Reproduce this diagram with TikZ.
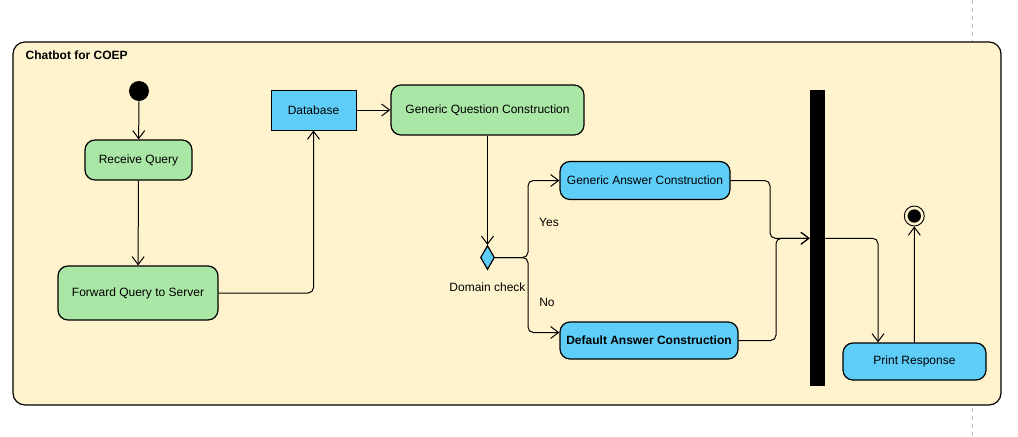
\documentclass[tikz,border=0pt]{standalone}
\usepackage{fontspec}
\setmainfont{Liberation Sans}
\usetikzlibrary{arrows.meta}
\usetikzlibrary{shapes.geometric}

\definecolor{poolfill}{RGB}{255,243,205}
\definecolor{actgreen}{RGB}{170,230,165}
\definecolor{actblue}{RGB}{94,206,248}

\begin{document}
\begin{tikzpicture}[x=0.75pt, y=-0.75pt, font=\fontsize{9}{11}\selectfont,
    action/.style={draw, line width=0.9pt, rounded corners=7.5pt, inner sep=0pt},
    flow/.style={line width=0.75pt, rounded corners=4pt,
        -{Straight Barb[length=6pt, width=9pt, line width=0.75pt]}}]
    \useasboundingbox (0,0) rectangle (1018,436);
    \draw [dashed, black!25, line width=0.75pt] (972,0) -- (972,436);
    % swimlane
    \draw [line width=0.9pt, fill=poolfill, rounded corners=9pt] (13,42) rectangle (1001,405);
    \node [anchor=west, font=\fontsize{9}{11}\selectfont\bfseries] (title) at (21,55) {Chatbot for COEP};
    % states
    \node [circle, fill=black, inner sep=0pt, minimum size=15pt] (init) at (139,91) {};
    \node [action, fill=actgreen, minimum width=80.25pt, minimum height=30pt] (recv) at (138.5,160) {Receive Query};
    \node [action, fill=actgreen, minimum width=120pt, minimum height=40.5pt] (fwd) at (138,293) {Forward Query to Server};
    \node [draw, line width=0.7pt, fill=actblue, minimum width=63.75pt, minimum height=30pt] (db) at (313.5,110) {Database};
    \node [action, fill=actgreen, minimum width=144.75pt, minimum height=37.5pt] (gqc) at (487.5,110) {Generic Question Construction};
    \node [diamond, draw, line width=0.9pt, fill=actblue, inner sep=0pt, minimum width=10.5pt, minimum height=18pt] (dec) at (487.5,257.5) {};
    \node (domain) at (487.5,287) {Domain check};
    \node [action, fill=actblue, minimum width=127.5pt, minimum height=28.5pt] (gac) at (645,180.5) {Generic Answer Construction};
    \node [action, fill=actblue, minimum width=133.5pt, minimum height=27.75pt, font=\fontsize{9}{11}\selectfont\bfseries] (dac) at (649,340.5) {Default Answer Construction};
    \node [fill=black, inner sep=0pt, minimum width=11.25pt, minimum height=222pt] (bar) at (817.5,238.3) {};
    \node [action, fill=actblue, minimum width=107.25pt, minimum height=27.75pt] (prt) at (914.5,361.5) {Print Response};
    \node [circle, draw, line width=0.7pt, fill=poolfill, inner sep=0pt, minimum size=15pt] (fin) at (914.3,216) {};
    \node [circle, fill=black, inner sep=0pt, minimum size=10pt] (finDot) at (fin) {};
    % guards
    \node (yes) at (549,222) {Yes};
    \node (no) at (547,302) {No};
    % bends
    \coordinate (split) at (528,257.5);
    \coordinate (joinA) at (770,238.3);
    \coordinate (joinB) at (776,238.3);
    \coordinate (fork) at (878,238.3);
    % flows
    \draw [flow] (init) -- (recv);
    \draw [flow] (recv) -- (fwd);
    \draw [flow] (fwd) -| (db);
    \draw [flow] (db) -- (gqc);
    \draw [flow] (gqc) -- (dec);
    \draw [flow] (dec.east) -- (split) |- (gac);
    \draw [flow] (dec.east) -- (split) |- ([yshift=6pt]dac.west);
    \draw [flow] (gac.east) -| (joinA) -- (bar);
    \draw [flow] (dac.east) -| (joinB) -- (bar);
    \draw [flow] (bar.east |- fork) -- (fork) -- (fork |- prt.north);
    \draw [flow] (prt) -- (fin);
\end{tikzpicture}
\end{document}
